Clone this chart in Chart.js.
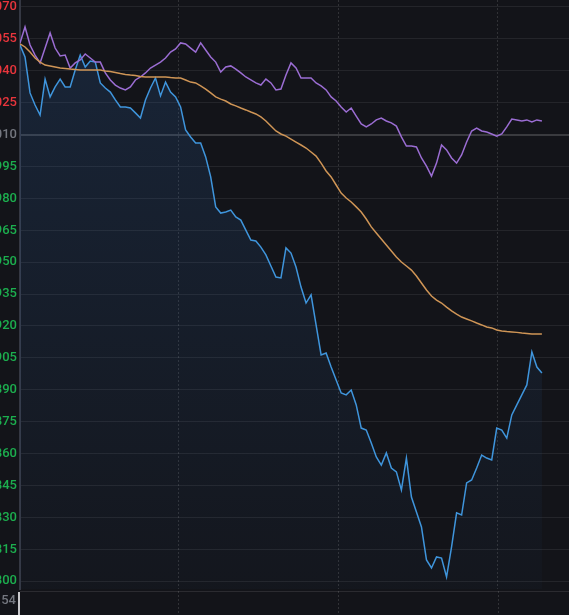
<!DOCTYPE html>
<html>
<head>
<meta charset="utf-8">
<script src="https://cdn.jsdelivr.net/npm/chart.js@4.4.1/dist/chart.umd.min.js"></script>
<style>
  html, body { margin: 0; padding: 0; background: #131419; }
  #wrap { position: relative; width: 569px; height: 615px; }
</style>
</head>
<body>
<div id="wrap"><canvas id="trendChart"></canvas></div>
<script>
// minute index along the session
const times = Array.from({ length: 105 }, (_, i) => i);

// blue line (with area)
const priceLine = [
  1.0521, 1.0465, 1.0296, 1.0239, 1.0192, 1.0361, 1.0277, 1.0324, 1.0361, 1.0324,
  1.0324, 1.0404, 1.0474, 1.0418, 1.0446, 1.0441, 1.0343, 1.0319, 1.0300, 1.0263,
  1.0230, 1.0230, 1.0225, 1.0202, 1.0178, 1.0263, 1.0319, 1.0366, 1.0282, 1.0347,
  1.0300, 1.0277, 1.0230, 1.0122, 1.0089, 1.0061, 1.0061, 0.9995, 0.9901, 0.9760,
  0.9731, 0.9736, 0.9745, 0.9713, 0.9698, 0.9651, 0.9604, 0.9600, 0.9571, 0.9534,
  0.9482, 0.9430, 0.9426, 0.9567, 0.9543, 0.9477, 0.9383, 0.9308, 0.9346, 0.9205,
  0.9064, 0.9073, 0.9007, 0.8946, 0.8885, 0.8876, 0.8899, 0.8829, 0.8720, 0.8711,
  0.8650, 0.8584, 0.8546, 0.8603, 0.8532, 0.8514, 0.8429, 0.8579, 0.8396, 0.8325,
  0.8255, 0.8100, 0.8062, 0.8114, 0.8109, 0.8020, 0.8161, 0.8321, 0.8311, 0.8462,
  0.8476, 0.8532, 0.8593, 0.8579, 0.8570, 0.8720, 0.8711, 0.8673, 0.8782, 0.8829,
  0.8876, 0.8923, 0.9078, 0.9007, 0.8979
];

// purple line
const benchLine = [
  1.0531, 1.0606, 1.0521, 1.0474, 1.0437, 1.0507, 1.0578, 1.0507, 1.0470, 1.0474,
  1.0413, 1.0437, 1.0451, 1.0479, 1.0460, 1.0441, 1.0441, 1.0390, 1.0357, 1.0333,
  1.0319, 1.0310, 1.0324, 1.0357, 1.0371, 1.0390, 1.0413, 1.0427, 1.0441, 1.0460,
  1.0488, 1.0503, 1.0531, 1.0526, 1.0507, 1.0488, 1.0531, 1.0498, 1.0465, 1.0441,
  1.0394, 1.0418, 1.0423, 1.0408, 1.0390, 1.0371, 1.0357, 1.0343, 1.0333, 1.0361,
  1.0343, 1.0310, 1.0314, 1.0380, 1.0437, 1.0413, 1.0366, 1.0366, 1.0366, 1.0343,
  1.0329, 1.0310, 1.0277, 1.0258, 1.0230, 1.0206, 1.0225, 1.0187, 1.0150, 1.0136,
  1.0150, 1.0169, 1.0178, 1.0164, 1.0155, 1.0140, 1.0089, 1.0046, 1.0046, 1.0042,
  0.9990, 0.9952, 0.9905, 0.9966, 1.0051, 1.0028, 0.9990, 0.9966, 1.0004, 1.0065,
  1.0117, 1.0131, 1.0117, 1.0112, 1.0103, 1.0093, 1.0103, 1.0136, 1.0173, 1.0169,
  1.0164, 1.0169, 1.0159, 1.0169, 1.0164
];

// orange line (average)
const avgLine = [
  1.0526, 1.0512, 1.0488, 1.0460, 1.0441, 1.0427, 1.0423, 1.0418, 1.0413, 1.0411,
  1.0408, 1.0406, 1.0404, 1.0404, 1.0404, 1.0404, 1.0404, 1.0399, 1.0397, 1.0392,
  1.0387, 1.0383, 1.0380, 1.0378, 1.0373, 1.0371, 1.0371, 1.0371, 1.0371, 1.0371,
  1.0368, 1.0366, 1.0366, 1.0357, 1.0347, 1.0343, 1.0329, 1.0314, 1.0296, 1.0277,
  1.0267, 1.0258, 1.0244, 1.0235, 1.0225, 1.0216, 1.0206, 1.0197, 1.0183, 1.0164,
  1.0140, 1.0117, 1.0103, 1.0093, 1.0079, 1.0065, 1.0051, 1.0037, 1.0018, 0.9999,
  0.9966, 0.9929, 0.9901, 0.9863, 0.9825, 0.9802, 0.9783, 0.9760, 0.9736, 0.9703,
  0.9666, 0.9637, 0.9609, 0.9581, 0.9553, 0.9524, 0.9501, 0.9482, 0.9463, 0.9435,
  0.9402, 0.9369, 0.9341, 0.9322, 0.9308, 0.9289, 0.9271, 0.9256, 0.9242, 0.9233,
  0.9224, 0.9214, 0.9205, 0.9195, 0.9191, 0.9181, 0.9177, 0.9174, 0.9172, 0.9170,
  0.9167, 0.9165, 0.9162, 0.9162, 0.9162
];

// y tick labels, reference (previous close) in the middle
const yTicks = [1.070, 1.055, 1.040, 1.025, 1.010, 0.995, 0.980, 0.965, 0.950, 0.935,
  0.920, 0.905, 0.890, 0.875, 0.860, 0.845, 0.830, 0.815, 0.800];
const refValue = 1.010;
const xGridLines = [31.5, 63.4, 95.2];
const volumeLabel = '1.54';

const RED = '#e8353c';
const GREEN = '#1cae4e';
const GRAY = '#74777f';

// bottom strip (volume pane) + background
const panePlugin = {
  id: 'pane',
  beforeDraw(chart) {
    const c = chart.ctx;
    c.save();
    c.fillStyle = '#131419';
    c.fillRect(0, 0, chart.width, chart.height);
    c.restore();
  },
  afterDraw(chart) {
    const c = chart.ctx;
    const area = chart.chartArea;
    const top = area.bottom + 2;
    c.save();
    c.strokeStyle = 'rgba(255,255,255,0.1)';
    c.lineWidth = 1;
    c.beginPath();
    c.moveTo(area.left, top + 0.5);
    c.lineTo(area.right, top + 0.5);
    c.stroke();

    c.setLineDash([2, 2]);
    c.strokeStyle = 'rgba(255,255,255,0.13)';
    xGridLines.forEach(v => {
      const x = Math.round(chart.scales.x.getPixelForValue(v)) + 0.5;
      c.beginPath();
      c.moveTo(x, top);
      c.lineTo(x, chart.height);
      c.stroke();
    });
    c.setLineDash([]);

    c.strokeStyle = '#c9c9cc';
    c.lineWidth = 2;
    c.beginPath();
    c.moveTo(area.left - 1, top + 1);
    c.lineTo(area.left - 1, chart.height);
    c.stroke();

    c.fillStyle = GRAY;
    c.font = '500 13px Roboto';
    c.textAlign = 'right';
    c.textBaseline = 'middle';
    c.fillText(volumeLabel, area.left - 4, top + 10);
    c.restore();
  }
};

const ctx = document.getElementById('trendChart');
ctx.width = 569;
ctx.height = 615;

new Chart(ctx, {
  type: 'line',
  data: {
    labels: times,
    datasets: [
      {
        label: 'avg',
        data: avgLine,
        borderColor: '#cf9556',
        borderWidth: 1.5,
        pointRadius: 0,
        fill: false,
        order: 1
      },
      {
        label: 'bench',
        data: benchLine,
        borderColor: '#9b6dd3',
        borderWidth: 1.5,
        pointRadius: 0,
        fill: false,
        order: 2
      },
      {
        label: 'price',
        data: priceLine,
        borderColor: '#3f95dc',
        borderWidth: 1.5,
        pointRadius: 0,
        fill: 'start',
        backgroundColor: (c) => {
          const area = c.chart.chartArea;
          if (!area) return 'rgba(45,100,170,0.12)';
          const g = c.chart.ctx.createLinearGradient(0, area.top, 0, area.bottom);
          g.addColorStop(0, 'rgba(45,100,170,0.22)');
          g.addColorStop(1, 'rgba(45,100,170,0.03)');
          return g;
        },
        order: 3
      }
    ]
  },
  options: {
    responsive: false,
    animation: false,
    events: [],
    layout: { padding: { left: 0, right: 0, top: 0, bottom: 26 } },
    plugins: {
      legend: { display: false },
      tooltip: { enabled: false }
    },
    scales: {
      x: {
        type: 'linear',
        min: 0,
        max: 109.4,
        afterBuildTicks: (scale) => {
          scale.ticks = xGridLines.map(v => ({ value: v }));
        },
        afterFit: (scale) => {
          scale.height = 0;
          scale.paddingLeft = 0;
          scale.paddingRight = 0;
        },
        ticks: { display: false },
        grid: {
          color: 'rgba(255,255,255,0.13)',
          lineWidth: 1,
          drawTicks: false
        },
        border: { display: false, dash: [2, 2] }
      },
      y: {
        min: 0.79633,
        max: 1.07329,
        afterBuildTicks: (scale) => {
          scale.ticks = yTicks.map(v => ({ value: v }));
        },
        afterFit: (scale) => {
          scale.width = 20;
          scale.paddingTop = 0;
          scale.paddingBottom = 0;
        },
        ticks: {
          padding: 3,
          font: { family: 'Roboto', size: 13, weight: '500' },
          callback: (v) => v.toFixed(3),
          color: (c) => {
            const v = c.tick.value;
            if (Math.abs(v - refValue) < 1e-6) return GRAY;
            return v > refValue ? RED : GREEN;
          }
        },
        grid: {
          drawTicks: false,
          color: (c) => c.tick && Math.abs(c.tick.value - refValue) < 1e-6
            ? 'rgba(255,255,255,0.17)' : 'rgba(255,255,255,0.075)',
          lineWidth: (c) => c.tick && Math.abs(c.tick.value - refValue) < 1e-6 ? 2 : 1
        },
        border: { display: true, color: '#353843', width: 2 }
      }
    }
  },
  plugins: [panePlugin]
});
</script>
</body>
</html>
